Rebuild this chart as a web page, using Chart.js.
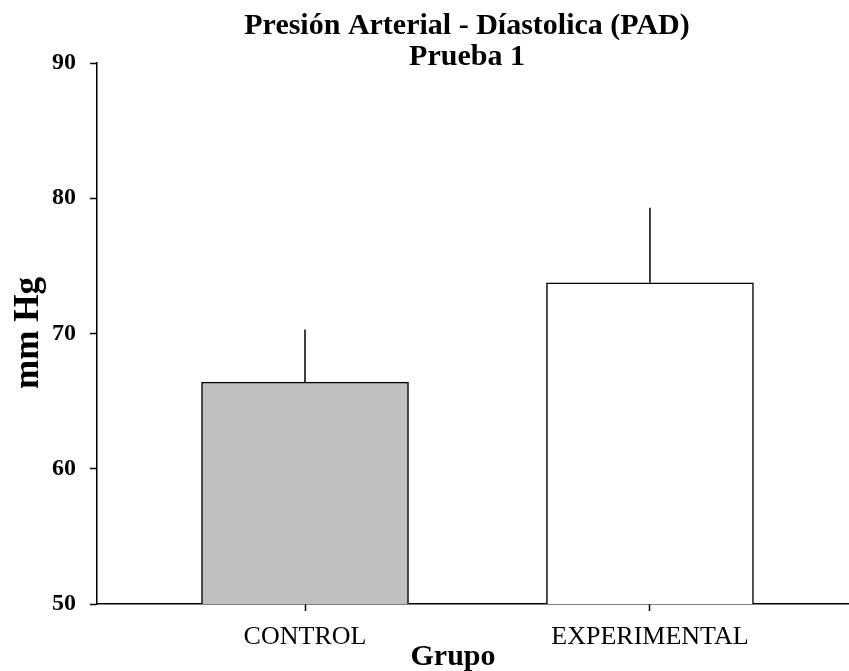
<!DOCTYPE html>
<html>
<head>
<meta charset="utf-8">
<script src="https://cdn.jsdelivr.net/npm/chart.js@4.4.1/dist/chart.umd.min.js"></script>
<style>
  html, body { margin: 0; padding: 0; background: #fff; }
  #c { display: block; }
</style>
</head>
<body>
<canvas id="c" width="849" height="671"></canvas>
<script>
const categories = ['CONTROL', 'EXPERIMENTAL'];
const xPositions = [1, 2];
const means = [66.4, 73.75];
const sdUpper = [3.9, 5.55];
const yTicks = [50, 60, 70, 80, 90];
const barColors = ['#c0c0c0', '#ffffff'];
const titleLines = ['Presión Arterial - Díastolica (PAD)', 'Prueba 1'];
const xTitle = 'Grupo';
const yTitle = 'mm Hg';

const SERIF = '"Liberation Serif", "Times New Roman", serif';

const errorBars = {
  id: 'errorBars',
  afterDatasetsDraw(chart) {
    const ctx = chart.ctx;
    const xs = chart.scales.x, ys = chart.scales.y;
    ctx.save();
    ctx.strokeStyle = '#000';
    ctx.lineWidth = 1.5;
    for (let i = 0; i < means.length; i++) {
      const x = xs.getPixelForValue(xPositions[i]);
      const y1 = ys.getPixelForValue(means[i]);
      const y2 = ys.getPixelForValue(means[i] + sdUpper[i]);
      ctx.beginPath();
      ctx.moveTo(x, y1);
      ctx.lineTo(x, y2);
      ctx.stroke();
    }
    ctx.restore();
  }
};

const titles = {
  id: 'titles',
  afterDraw(chart) {
    const ctx = chart.ctx;
    ctx.save();
    ctx.fillStyle = '#000';
    ctx.textAlign = 'center';
    ctx.textBaseline = 'alphabetic';
    ctx.font = 'bold 30px ' + SERIF;
    ctx.fillText(titleLines[0], 467, 34);
    ctx.fillText(titleLines[1], 467, 65);
    ctx.font = 'bold 30px ' + SERIF;
    ctx.fillText(xTitle, 453, 665);
    ctx.translate(38, 333);
    ctx.rotate(-Math.PI / 2);
    ctx.font = 'bold 35px ' + SERIF;
    ctx.fillText(yTitle, 0, 0);
    ctx.restore();
  }
};

new Chart(document.getElementById('c'), {
  type: 'bar',
  data: {
    datasets: [{
      data: xPositions.map((x, i) => ({ x: x, y: means[i] })),
      backgroundColor: barColors,
      borderColor: '#000',
      borderWidth: 1.5,
      barThickness: 207
    }]
  },
  options: {
    responsive: false,
    animation: false,
    layout: { padding: { top: 63, left: 0, right: 0, bottom: 0 } },
    plugins: { legend: { display: false }, tooltip: { enabled: false }, title: { display: false } },
    scales: {
      x: {
        type: 'linear',
        min: 0.397,
        max: 2.577,
        offset: false,
        afterBuildTicks(s) { s.ticks = xPositions.map(v => ({ value: v })); },
        afterFit(s) { s.height = 67; },
        grid: { offset: false, drawOnChartArea: false, drawTicks: true, tickLength: 7, color: '#000', tickWidth: 1.5 },
        border: { display: true, color: '#000', width: 1.5 },
        ticks: {
          padding: 11,
          color: '#000',
          font: { family: SERIF, size: 26, weight: 'normal' },
          callback: (v) => categories[xPositions.indexOf(v)],
          maxRotation: 0,
          autoSkip: false
        }
      },
      y: {
        min: 50,
        max: 90,
        afterBuildTicks(s) { s.ticks = yTicks.map(v => ({ value: v })); },
        afterFit(s) { s.width = 97; },
        grid: { drawOnChartArea: false, drawTicks: true, tickLength: 7, color: '#000', tickWidth: 1.5 },
        border: { display: true, color: '#000', width: 1.5 },
        ticks: {
          padding: 14,
          color: '#000',
          font: { family: SERIF, size: 24, weight: 'bold' }
        }
      }
    }
  },
  plugins: [errorBars, titles]
});
</script>
</body>
</html>
